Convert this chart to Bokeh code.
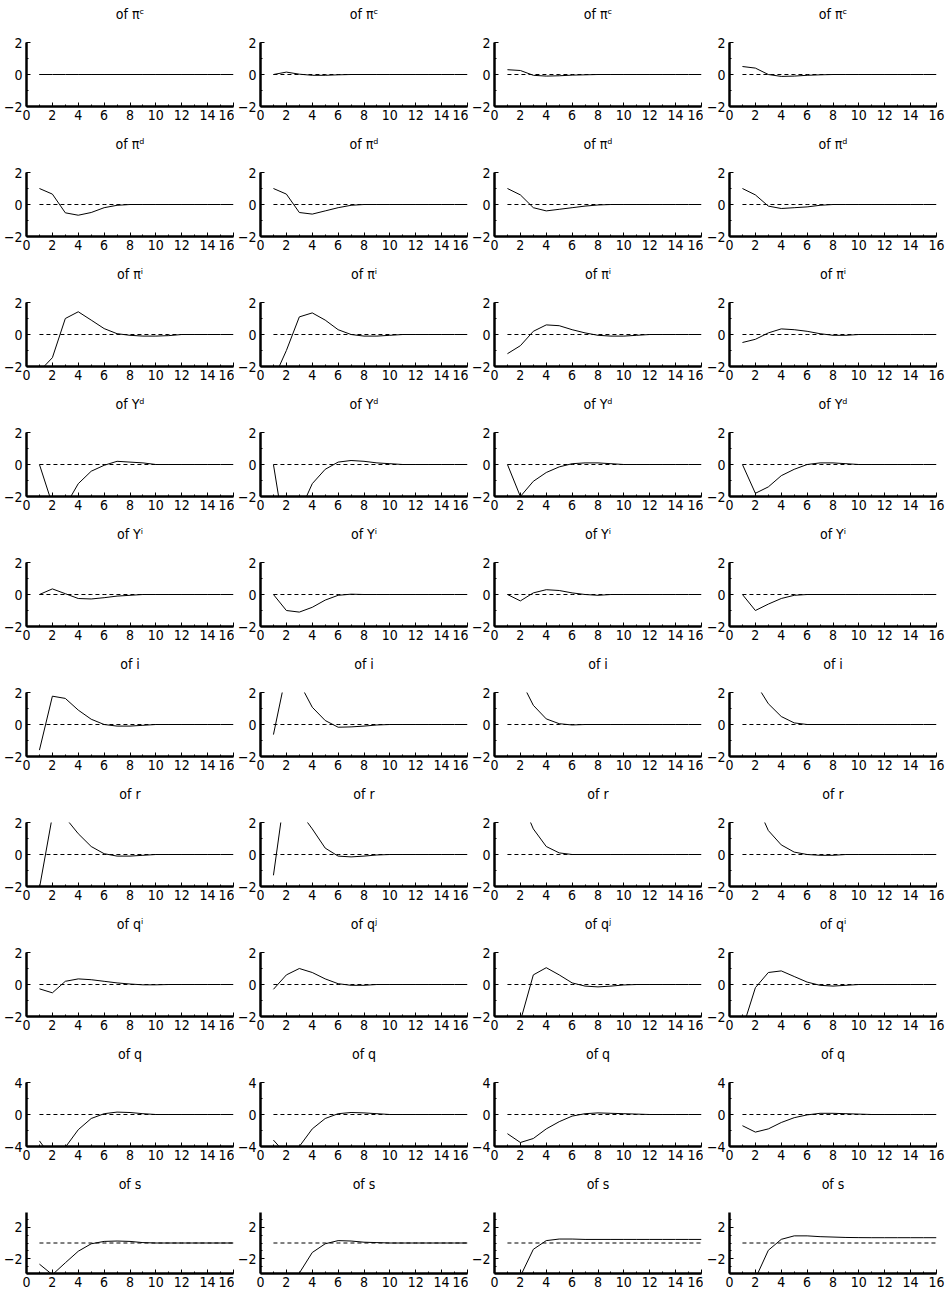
from bokeh.plotting import figure
from bokeh.layouts import gridplot
from bokeh.models import FixedTicker, Range1d, CustomJSTickFormatter, Title
from bokeh.embed import file_html
from bokeh.resources import INLINE

# ---------------- data ----------------
periods = list(range(1, 17))
steady_state = [0.0] * 16
x_ticks = [0, 2, 4, 6, 8, 10, 12, 14, 16]
x_minor = list(range(0, 17))

row_titles = ["of πᶜ", "of πᵈ", "of πⁱ", "of Yᵈ", "of Yⁱ", "of i", "of r",
              "of qⁱ", "of q", "of s"]
q_i_titles = ["of qⁱ", "of qʲ", "of qʲ", "of qⁱ"]

pi_c = [
    [0.0, 0.0, 0.0, 0.0, 0.0, 0.0, 0.0, 0.0, 0.0, 0.0, 0.0, 0.0, 0.0, 0.0, 0.0, 0.0],
    [0.0, 0.15, 0.02, -0.05, -0.05, -0.02, 0.0, 0.0, 0.0, 0.0, 0.0, 0.0, 0.0, 0.0, 0.0, 0.0],
    [0.3, 0.25, -0.05, -0.1, -0.08, -0.04, -0.02, 0.0, 0.0, 0.0, 0.0, 0.0, 0.0, 0.0, 0.0, 0.0],
    [0.5, 0.4, 0.0, -0.12, -0.1, -0.05, -0.02, 0.0, 0.0, 0.0, 0.0, 0.0, 0.0, 0.0, 0.0, 0.0],
]
pi_d = [
    [1.0, 0.65, -0.52, -0.67, -0.5, -0.2, -0.05, 0.0, 0.0, 0.0, 0.0, 0.0, 0.0, 0.0, 0.0, 0.0],
    [1.0, 0.65, -0.5, -0.6, -0.4, -0.2, -0.05, 0.0, 0.0, 0.0, 0.0, 0.0, 0.0, 0.0, 0.0, 0.0],
    [1.0, 0.6, -0.2, -0.4, -0.3, -0.2, -0.1, -0.03, 0.0, 0.0, 0.0, 0.0, 0.0, 0.0, 0.0, 0.0],
    [1.0, 0.6, -0.1, -0.25, -0.2, -0.15, -0.05, 0.0, 0.0, 0.0, 0.0, 0.0, 0.0, 0.0, 0.0, 0.0],
]
pi_i = [
    [-2.3, -1.45, 1.0, 1.42, 0.9, 0.37, 0.05, -0.05, -0.1, -0.1, -0.07, 0.0, 0.0, 0.0, 0.0, 0.0],
    [-2.8, -1.0, 1.1, 1.35, 0.9, 0.3, 0.0, -0.1, -0.1, -0.05, 0.0, 0.0, 0.0, 0.0, 0.0, 0.0],
    [-1.2, -0.7, 0.2, 0.6, 0.55, 0.3, 0.1, -0.05, -0.1, -0.1, -0.05, 0.0, 0.0, 0.0, 0.0, 0.0],
    [-0.5, -0.3, 0.1, 0.35, 0.3, 0.2, 0.05, -0.05, -0.05, 0.0, 0.0, 0.0, 0.0, 0.0, 0.0, 0.0],
]
y_d = [
    [0.0, -2.5, -2.6, -1.2, -0.42, -0.05, 0.2, 0.15, 0.1, 0.0, 0.0, 0.0, 0.0, 0.0, 0.0, 0.0],
    [0.0, -5.0, -3.0, -1.2, -0.3, 0.15, 0.25, 0.2, 0.1, 0.05, 0.0, 0.0, 0.0, 0.0, 0.0, 0.0],
    [0.0, -2.0, -1.05, -0.5, -0.15, 0.05, 0.1, 0.1, 0.05, 0.0, 0.0, 0.0, 0.0, 0.0, 0.0, 0.0],
    [0.0, -1.8, -1.4, -0.7, -0.3, 0.0, 0.1, 0.1, 0.05, 0.0, 0.0, 0.0, 0.0, 0.0, 0.0, 0.0],
]
y_i = [
    [0.0, 0.35, 0.05, -0.25, -0.28, -0.2, -0.1, -0.05, 0.0, 0.0, 0.0, 0.0, 0.0, 0.0, 0.0, 0.0],
    [0.0, -1.0, -1.1, -0.8, -0.35, -0.05, 0.02, 0.0, 0.0, 0.0, 0.0, 0.0, 0.0, 0.0, 0.0, 0.0],
    [0.0, -0.4, 0.1, 0.3, 0.25, 0.1, 0.0, -0.05, 0.0, 0.0, 0.0, 0.0, 0.0, 0.0, 0.0, 0.0],
    [0.0, -1.0, -0.6, -0.25, -0.05, 0.0, 0.0, 0.0, 0.0, 0.0, 0.0, 0.0, 0.0, 0.0, 0.0, 0.0],
]
i_rate = [
    [-1.6, 1.77, 1.63, 0.9, 0.33, 0.0, -0.1, -0.1, -0.05, 0.0, 0.0, 0.0, 0.0, 0.0, 0.0, 0.0],
    [-0.63, 3.24, 2.61, 1.08, 0.25, -0.17, -0.15, -0.1, -0.03, 0.0, 0.0, 0.0, 0.0, 0.0, 0.0, 0.0],
    [5.0, 2.8, 1.2, 0.35, 0.05, -0.03, 0.0, 0.0, 0.0, 0.0, 0.0, 0.0, 0.0, 0.0, 0.0, 0.0],
    [4.5, 2.6, 1.3, 0.5, 0.1, 0.0, 0.0, 0.0, 0.0, 0.0, 0.0, 0.0, 0.0, 0.0, 0.0, 0.0],
]
r_rate = [
    [-2.1, 2.4, 2.3, 1.3, 0.5, 0.05, -0.1, -0.1, -0.05, 0.0, 0.0, 0.0, 0.0, 0.0, 0.0, 0.0],
    [-1.3, 4.5, 2.7, 1.6, 0.4, -0.1, -0.15, -0.1, -0.03, 0.0, 0.0, 0.0, 0.0, 0.0, 0.0, 0.0],
    [6.0, 3.5, 1.6, 0.5, 0.1, 0.0, 0.0, 0.0, 0.0, 0.0, 0.0, 0.0, 0.0, 0.0, 0.0, 0.0],
    [5.5, 3.3, 1.5, 0.6, 0.15, 0.0, -0.05, -0.05, 0.0, 0.0, 0.0, 0.0, 0.0, 0.0, 0.0, 0.0],
]
q_i = [
    [-0.27, -0.52, 0.2, 0.35, 0.3, 0.2, 0.1, 0.03, -0.02, -0.02, 0.0, 0.0, 0.0, 0.0, 0.0, 0.0],
    [-0.3, 0.6, 1.0, 0.75, 0.35, 0.05, -0.05, -0.05, 0.0, 0.0, 0.0, 0.0, 0.0, 0.0, 0.0, 0.0],
    [-4.0, -2.29, 0.6, 1.05, 0.6, 0.1, -0.1, -0.15, -0.1, -0.03, 0.0, 0.0, 0.0, 0.0, 0.0, 0.0],
    [-2.77, -0.2, 0.75, 0.85, 0.5, 0.15, -0.05, -0.1, -0.05, 0.0, 0.0, 0.0, 0.0, 0.0, 0.0, 0.0],
]
q_real = [
    [-3.3, -5.5, -4.1, -1.9, -0.5, 0.1, 0.3, 0.25, 0.1, 0.0, 0.0, 0.0, 0.0, 0.0, 0.0, 0.0],
    [-3.2, -5.0, -4.0, -1.8, -0.5, 0.1, 0.25, 0.2, 0.1, 0.0, 0.0, 0.0, 0.0, 0.0, 0.0, 0.0],
    [-2.4, -3.5, -3.0, -1.8, -0.9, -0.2, 0.1, 0.2, 0.15, 0.1, 0.05, 0.0, 0.0, 0.0, 0.0, 0.0],
    [-1.4, -2.2, -1.8, -1.0, -0.4, -0.05, 0.15, 0.15, 0.1, 0.05, 0.0, 0.0, 0.0, 0.0, 0.0, 0.0],
]
s_rate = [
    [-2.67, -4.0, -2.5, -1.04, -0.1, 0.2, 0.25, 0.2, 0.05, 0.0, 0.0, 0.0, 0.0, 0.0, 0.0, 0.0],
    [-4.5, -6.0, -3.8, -1.2, -0.1, 0.3, 0.25, 0.1, 0.05, 0.0, 0.0, 0.0, 0.0, 0.0, 0.0, 0.0],
    [-6.0, -4.2, -0.8, 0.3, 0.5, 0.5, 0.45, 0.45, 0.45, 0.45, 0.45, 0.45, 0.45, 0.45, 0.45, 0.45],
    [-6.0, -4.5, -0.92, 0.46, 0.9, 0.9, 0.8, 0.75, 0.7, 0.68, 0.67, 0.67, 0.67, 0.67, 0.67, 0.67],
]

all_rows = [pi_c, pi_d, pi_i, y_d, y_i, i_rate, r_rate, q_i, q_real, s_rate]

y_ranges = [(-2, 2)] * 8 + [(-4, 4), (-3.85, 3.85)]
y_major = [[-2, 0, 2]] * 8 + [[-4, 0, 4], [-2, 2]]
y_minor = [[-2, -1, 0, 1, 2]] * 8 + [[-4, -2, 0, 2, 4], [-3, -2, -1, 0, 1, 2, 3]]

# ---------------- styling ----------------
FONT = "'Liberation Sans Narrow', 'DejaVu Sans Condensed', sans-serif"
minus_fmt = CustomJSTickFormatter(code="return tick < 0 ? '\u2212' + Math.abs(tick) : String(tick);")

col_widths = [234, 234, 235, 242]
col_right = [1, 1, 2, 9]

rows = []
for r, data in enumerate(all_rows):
    last = (r == len(all_rows) - 1)
    row = []
    for c in range(4):
        title = q_i_titles[c] if r == 7 else row_titles[r]
        if last:
            h, top, bottom = 124, 42, 21
        else:
            h, top, bottom = 130, 42, 24
        p = figure(width=col_widths[c], height=h, output_backend="svg", toolbar_location=None,
                   x_range=Range1d(0, 16), y_range=Range1d(*y_ranges[r]),
                   min_border_left=26, min_border_right=col_right[c],
                   min_border_top=top, min_border_bottom=bottom,
                   title=title)
        p.title.align = "center"
        p.title.text_font = FONT
        p.title.text_font_size = "14px"
        p.title.text_font_style = "normal"
        p.title.text_color = "black"
        p.title.standoff = 4
        # gap between the title and the plotting frame
        gap = Title(text=" ", text_font_size="2px", standoff=15, text_color="white")
        p.add_layout(gap, "above")
        p.outline_line_color = None
        p.xgrid.visible = False
        p.ygrid.visible = False
        p.background_fill_color = "white"
        p.border_fill_color = "white"

        p.line(periods, steady_state, line_color="black", line_width=1, line_dash="4 3")
        p.line(periods, data[c], line_color="black", line_width=1)

        for ax in (p.xaxis[0], p.yaxis[0]):
            ax.axis_line_width = 2.5
            ax.axis_line_color = "black"
            ax.major_tick_in = 4
            ax.major_tick_out = 0
            ax.minor_tick_in = 2
            ax.minor_tick_out = 0
            ax.major_tick_line_color = "black"
            ax.minor_tick_line_color = "black"
            ax.major_label_text_font = FONT
            ax.major_label_text_font_size = "14px"
            ax.major_label_text_color = "black"
            ax.major_label_standoff = 3
            ax.formatter = minus_fmt
        p.yaxis[0].major_label_standoff = 4
        p.xaxis[0].ticker = FixedTicker(ticks=x_ticks, minor_ticks=x_minor)
        p.yaxis[0].ticker = FixedTicker(ticks=y_major[r], minor_ticks=y_minor[r])
        row.append(p)
    rows.append(row)

grid = gridplot(rows, toolbar_location=None)

with open("out.html", "w") as f:
    f.write(file_html(grid, INLINE))
